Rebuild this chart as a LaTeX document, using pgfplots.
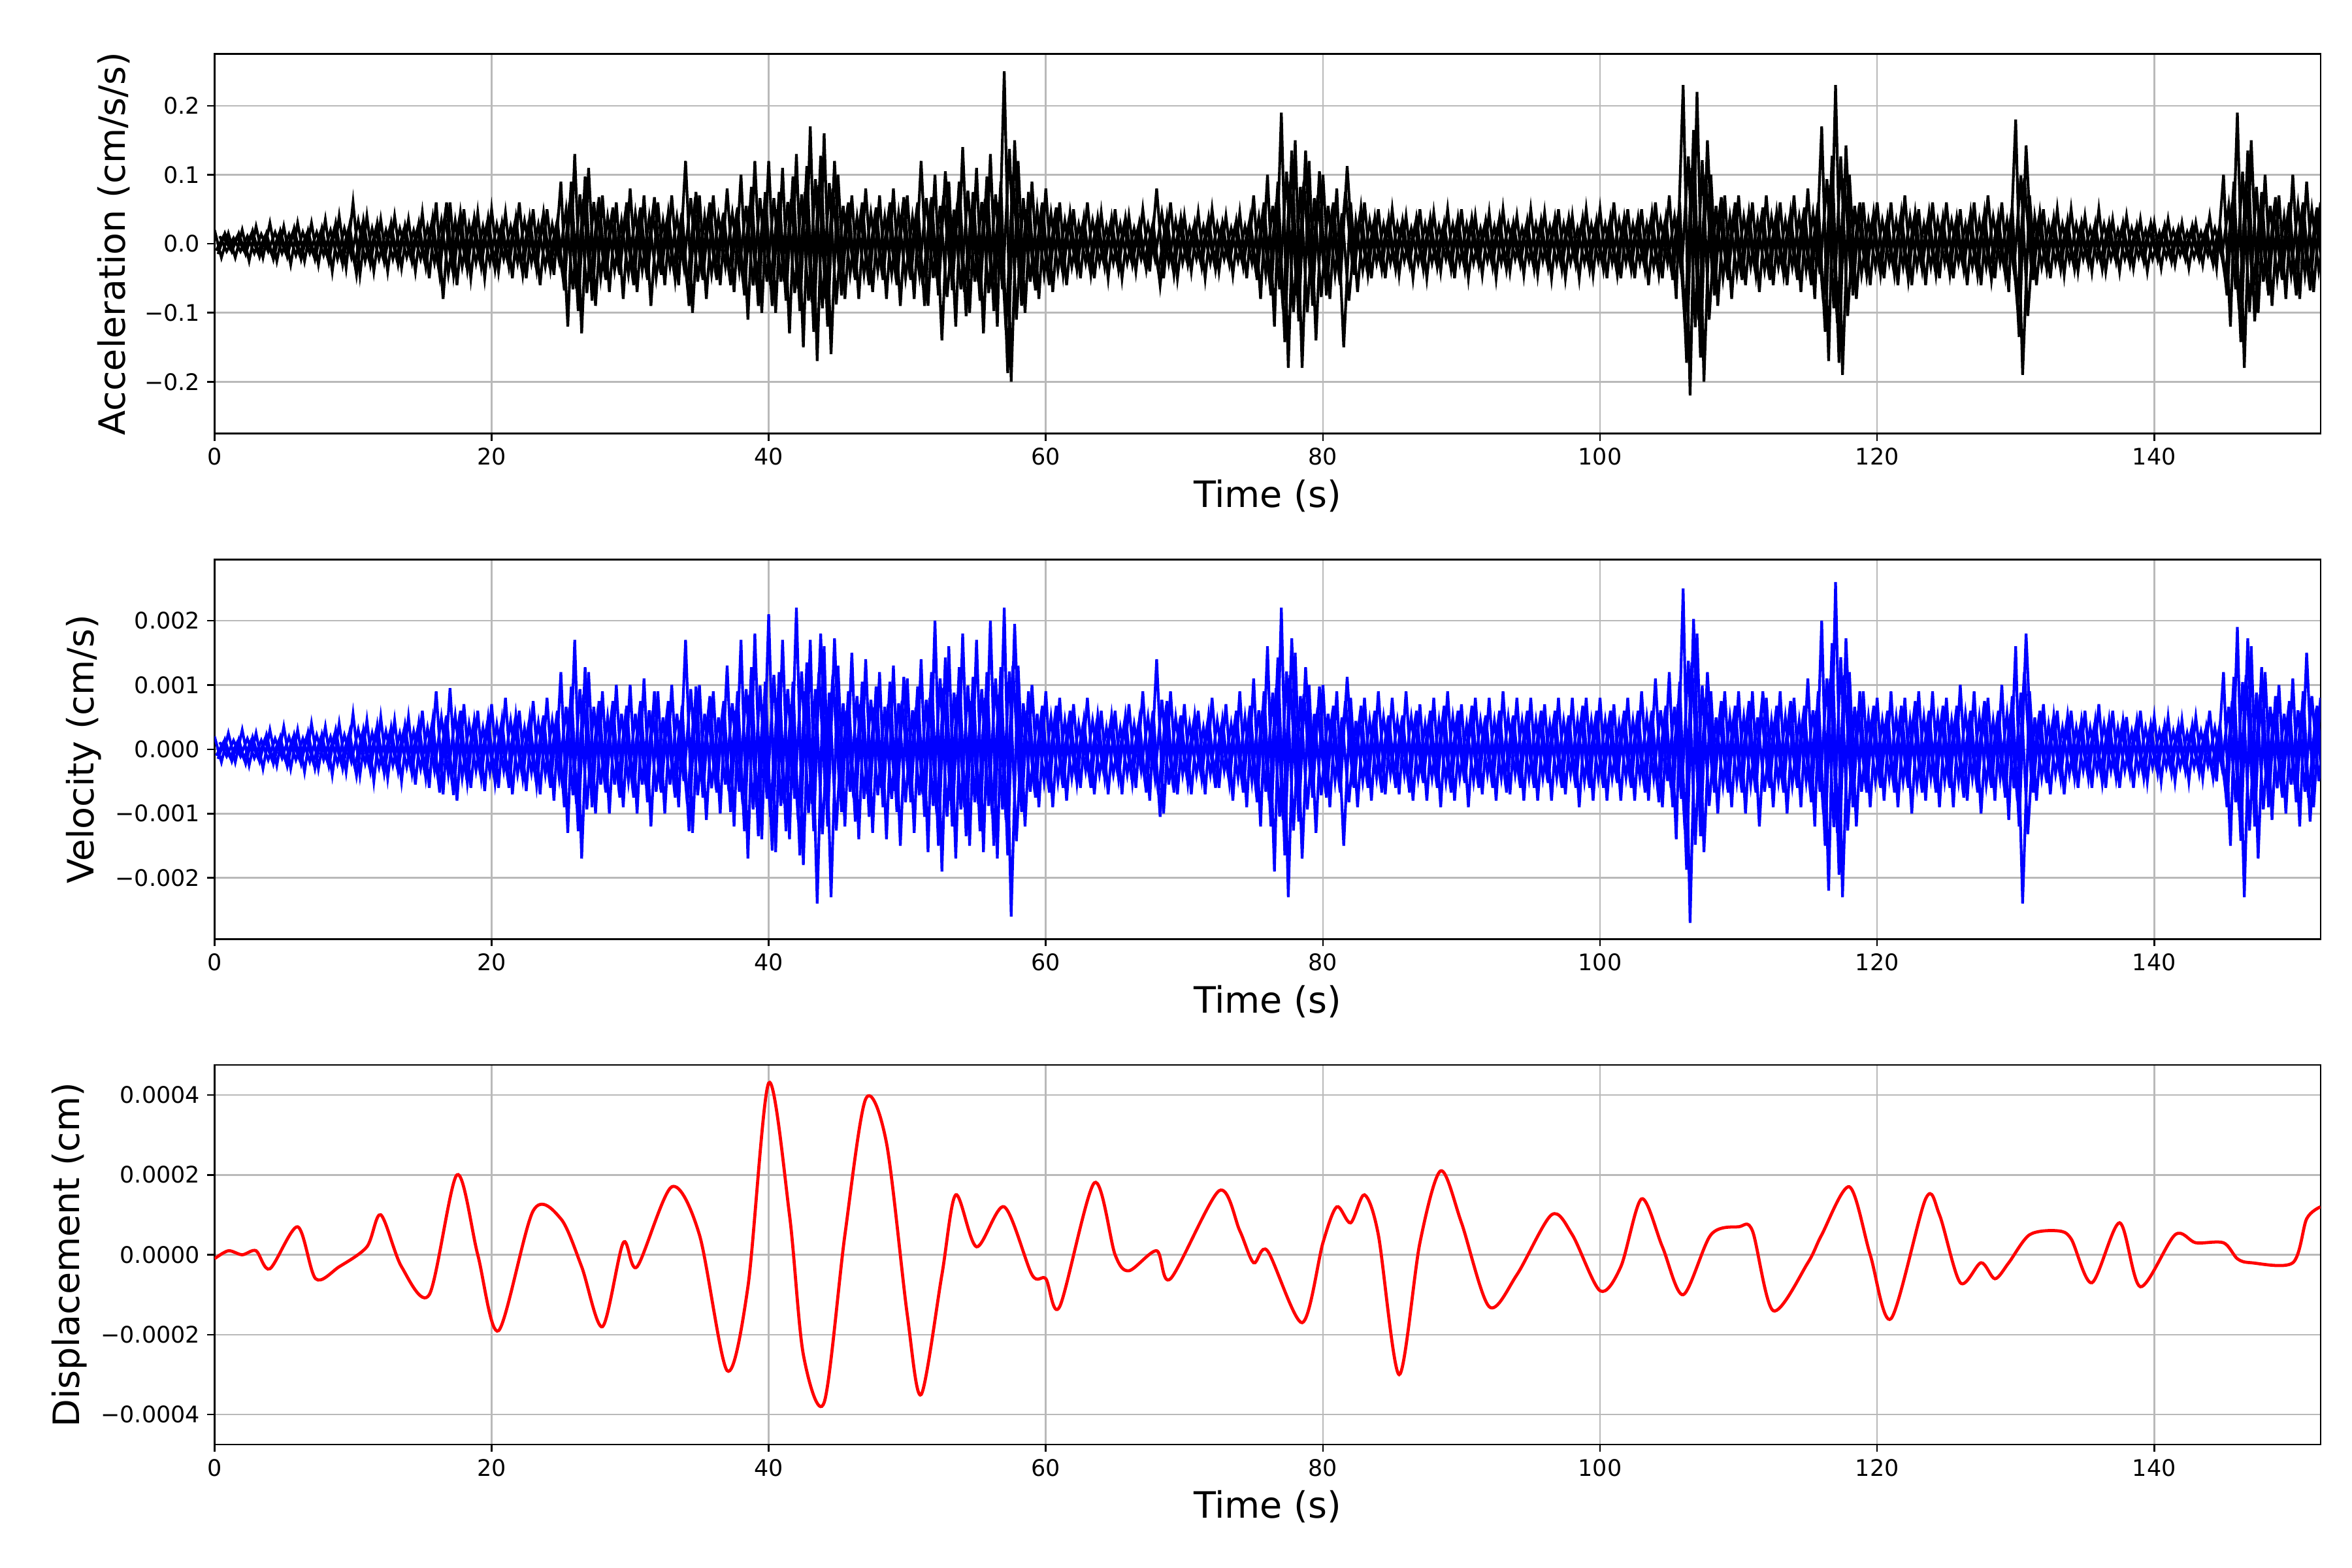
\documentclass[border=0pt]{standalone}
\usepackage{pgfplots}
\pgfplotsset{compat=1.18}
\usepackage{pgfplotstable}
\usepackage{fontspec}
\setmainfont{DejaVu Sans}
\pgfplotstableread{
y
0.02
-0.02
0.015
-0.02
0.02
-0.025
0.025
-0.02
0.03
-0.025
0.025
-0.03
0.03
-0.025
0.03
-0.03
0.035
-0.04
0.04
-0.035
0.06
-0.045
0.04
-0.04
0.035
-0.04
0.04
-0.035
0.035
-0.04
0.045
-0.05
0.06
-0.08
0.06
-0.06
0.05
-0.05
0.045
-0.05
0.05
-0.04
0.045
-0.05
0.06
-0.05
0.05
-0.06
0.05
-0.045
0.09
-0.12
0.13
-0.13
0.11
-0.09
0.07
-0.07
0.06
-0.08
0.08
-0.07
0.07
-0.09
0.06
-0.06
0.07
-0.06
0.12
-0.1
0.07
-0.08
0.07
-0.06
0.08
-0.07
0.1
-0.11
0.12
-0.1
0.12
-0.1
0.11
-0.13
0.13
-0.15
0.17
-0.17
0.16
-0.16
0.1
-0.08
0.07
-0.08
0.08
-0.07
0.07
-0.08
0.08
-0.09
0.07
-0.08
0.12
-0.09
0.1
-0.14
0.09
-0.12
0.14
-0.1
0.11
-0.13
0.13
-0.12
0.25
-0.2
0.12
-0.1
0.09
-0.08
0.08
-0.07
0.06
-0.06
0.05
-0.05
0.06
-0.05
0.045
-0.05
0.05
-0.05
0.04
-0.04
0.05
-0.04
0.08
-0.05
0.06
-0.05
0.04
-0.04
0.045
-0.05
0.05
-0.04
0.04
-0.045
0.045
-0.05
0.07
-0.08
0.1
-0.12
0.19
-0.18
0.15
-0.18
0.12
-0.14
0.1
-0.08
0.08
-0.15
0.06
-0.07
0.06
-0.05
0.05
-0.05
0.05
-0.045
0.04
-0.05
0.05
-0.05
0.045
-0.04
0.05
-0.05
0.05
-0.05
0.04
-0.045
0.045
-0.05
0.05
-0.04
0.04
-0.045
0.05
-0.045
0.045
-0.05
0.05
-0.05
0.04
-0.05
0.05
-0.045
0.05
-0.05
0.06
-0.05
0.05
-0.05
0.05
-0.06
0.06
-0.05
0.07
-0.08
0.23
-0.22
0.22
-0.2
0.1
-0.09
0.07
-0.08
0.07
-0.06
0.06
-0.07
0.07
-0.06
0.06
-0.06
0.07
-0.07
0.08
-0.08
0.17
-0.17
0.23
-0.19
0.1
-0.08
0.06
-0.06
0.06
-0.05
0.06
-0.06
0.07
-0.06
0.05
-0.06
0.06
-0.05
0.06
-0.05
0.05
-0.06
0.06
-0.06
0.07
-0.05
0.06
-0.07
0.18
-0.19
0.07
-0.06
0.05
-0.05
0.05
-0.045
0.05
-0.04
0.04
-0.04
0.05
-0.04
0.035
-0.04
0.04
-0.035
0.035
-0.04
0.03
-0.035
0.035
-0.03
0.03
-0.035
0.03
-0.03
0.04
-0.035
0.1
-0.12
0.19
-0.18
0.15
-0.1
0.1
-0.09
0.07
-0.08
0.1
-0.08
0.09
-0.07
0.06
}\tblacc
\pgfplotstableread{
y
0.2
-0.2
0.25
-0.2
0.3
-0.25
0.25
-0.3
0.3
-0.25
0.35
-0.3
0.3
-0.35
0.4
-0.3
0.35
-0.4
0.4
-0.35
0.55
-0.4
0.45
-0.5
0.5
-0.45
0.45
-0.5
0.5
-0.55
0.6
-0.6
0.9
-0.7
0.95
-0.8
0.7
-0.6
0.6
-0.65
0.7
-0.6
0.8
-0.7
0.6
-0.65
0.75
-0.7
0.8
-0.8
1.2
-1.3
1.7
-1.7
1.2
-1.0
0.9
-1.0
1.0
-0.9
1.0
-1.0
1.1
-1.2
0.9
-1.0
1.0
-0.9
1.7
-1.3
1.0
-1.1
0.9
-1.0
1.3
-1.2
1.7
-1.7
1.8
-1.4
2.1
-1.6
1.7
-1.4
2.2
-1.8
1.7
-2.4
1.6
-2.3
1.3
-1.2
1.5
-1.4
1.4
-1.3
1.2
-1.4
1.3
-1.5
1.1
-1.3
1.4
-1.6
2.0
-1.9
1.6
-1.7
1.8
-1.5
1.7
-1.6
2.0
-1.7
2.2
-2.6
1.3
-1.2
1.0
-0.9
0.9
-0.9
0.8
-0.8
0.7
-0.6
0.8
-0.7
0.6
-0.7
0.6
-0.7
0.7
-0.6
0.9
-0.8
1.4
-1.0
0.9
-0.7
0.7
-0.7
0.6
-0.7
0.8
-0.6
0.7
-0.8
0.9
-0.9
1.1
-1.2
1.6
-1.9
2.2
-2.3
1.5
-1.7
1.0
-1.3
1.0
-0.9
0.9
-1.5
0.8
-0.9
0.8
-0.8
0.9
-0.7
0.8
-0.7
0.9
-0.8
0.7
-0.8
0.8
-0.9
0.9
-0.8
0.7
-0.9
0.8
-0.7
0.8
-0.8
0.9
-0.7
0.8
-0.8
0.8
-0.8
0.7
-0.8
0.8
-0.7
0.8
-0.9
0.8
-0.8
0.8
-0.8
0.7
-0.8
0.8
-0.8
0.9
-0.8
1.1
-0.9
1.2
-1.4
2.5
-2.7
1.8
-1.6
0.9
-1.0
0.9
-0.9
0.9
-1.0
0.9
-1.2
0.8
-0.9
0.9
-1.0
0.8
-0.9
1.1
-1.2
2.0
-2.2
2.6
-2.3
1.2
-1.2
0.9
-0.9
0.8
-0.8
0.9
-0.9
0.8
-1.0
0.9
-0.8
0.9
-0.9
0.8
-0.9
1.0
-0.8
0.9
-1.0
0.8
-0.8
1.0
-1.1
1.6
-2.4
0.9
-0.8
0.7
-0.7
0.6
-0.7
0.6
-0.6
0.6
-0.6
0.7
-0.6
0.6
-0.6
0.5
-0.6
0.6
-0.5
0.5
-0.5
0.5
-0.5
0.45
-0.5
0.5
-0.45
0.6
-0.5
1.2
-1.5
1.9
-2.3
1.6
-1.7
1.2
-1.1
1.0
-1.0
1.1
-1.2
1.5
-0.9
0.8
}\tblvel
\pgfplotstableread{
t d
0 -0.1
1 0.1
2 0.0
3 0.1
4 -0.35
6 0.7
7.3 -0.6
9 -0.3
11 0.2
12 1.0
13.5 -0.3
15.5 -1.0
17.5 2.0
19 0.0
20.5 -1.9
23 1.1
25 0.9
26.5 -0.3
28 -1.8
29.5 0.3
30.5 -0.3
33 1.7
35 0.5
37 -2.9
38.5 -0.8
40 4.3
41.5 1.0
42.5 -2.5
44 -3.7
45.5 0.5
47 3.9
48.5 2.8
50 -1.5
51 -3.5
52.5 -0.5
53.5 1.5
55 0.2
57 1.2
59 -0.5
60 -0.6
61 -1.3
63.5 1.8
65 0.0
66 -0.4
68 0.1
69 -0.6
72.5 1.6
74 0.6
75 -0.2
76 0.1
78.5 -1.7
80 0.3
81 1.2
82 0.8
83 1.5
84 0.5
85.5 -3.0
87 0.3
88.5 2.1
90 0.8
92 -1.3
94 -0.5
96.5 1.0
98 0.5
100 -0.9
101.5 -0.3
103 1.4
104.5 0.2
106 -1.0
108 0.5
110 0.7
111 0.6
112.5 -1.4
115 -0.2
116 0.5
118 1.7
119.5 0.0
121 -1.6
123.5 1.4
124.5 1.0
126 -0.7
127.5 -0.2
128.5 -0.6
129.5 -0.2
131 0.5
133 0.6
134 0.4
135.5 -0.7
137.5 0.8
139 -0.8
141.5 0.5
143 0.3
145 0.3
146 -0.1
147 -0.2
150 -0.2
151 0.9
152 1.2
}\tbldisp
\pgfplotsset{
  myax/.style={
    scale only axis, width=14.04in, height=2.53in,
    xmin=0, xmax=152, xtick={0,20,...,140},
    grid=major, major grid style={gray!55, line width=0.8pt},
    axis line style={line width=0.8pt}, tick style={black, line width=0.8pt},
    tick align=outside, tick pos=left, major tick length=3.5pt,
    tick label style={font=\fontsize{11}{13}\selectfont},
    label style={font=\fontsize{17.5}{20}\selectfont},
    /pgf/number format/assume math mode=true,
    xlabel={Time (s)}, anchor=north west,
  }
}
\begin{document}
\begin{tikzpicture}
\path[use as bounding box] (0,0) rectangle (15.68in,-10.45in);
\begin{axis}[myax, at={(1.43in,-0.36in)}, ymin=-0.275, ymax=0.275,
  ytick={-0.2,-0.1,0,0.1,0.2}, yticklabels={−0.2,−0.1,0.0,0.1,0.2},
  ylabel={Acceleration (cm/s/s)}]
\addplot[black, line width=1.3pt] table[x expr=\coordindex*0.5, y=y] {\tblacc};
\addplot[black, line width=1.3pt] table[x index=0, y index=0, x expr=\coordindex*0.5+0.25, y expr=-0.75*\thisrow{y}] {\tblacc};
\addplot[black, line width=1.3pt] table[x index=0, y index=0, x expr=\coordindex*0.5+0.125, y expr=-0.5*\thisrow{y}] {\tblacc};
\addplot[black, line width=1.3pt] table[x index=0, y index=0, x expr=\coordindex*0.5+0.375, y expr=0.55*\thisrow{y}] {\tblacc};
\end{axis}
\begin{axis}[myax, at={(1.43in,-3.73in)}, ymin=-2.95, ymax=2.95,
  ytick={-2,-1,0,1,2}, yticklabels={−0.002,−0.001,0.000,0.001,0.002},
  ylabel={Velocity (cm/s)}]
\addplot[blue, line width=1.3pt] table[x expr=\coordindex*0.5, y=y] {\tblvel};
\addplot[blue, line width=1.3pt] table[x index=0, y index=0, x expr=\coordindex*0.5+0.25, y expr=-0.75*\thisrow{y}] {\tblvel};
\addplot[blue, line width=1.3pt] table[x index=0, y index=0, x expr=\coordindex*0.5+0.125, y expr=-0.5*\thisrow{y}] {\tblvel};
\addplot[blue, line width=1.3pt] table[x index=0, y index=0, x expr=\coordindex*0.5+0.375, y expr=0.55*\thisrow{y}] {\tblvel};
\end{axis}
\begin{axis}[myax, at={(1.43in,-7.10in)}, ymin=-4.75, ymax=4.75,
  ytick={-4,-2,0,2,4}, yticklabels={−0.0004,−0.0002,0.0000,0.0002,0.0004},
  ylabel={Displacement (cm)}]
\addplot[red, line width=1.5pt, smooth, tension=0.5] table[x=t, y=d] {\tbldisp};
\end{axis}
\end{tikzpicture}
\end{document}
